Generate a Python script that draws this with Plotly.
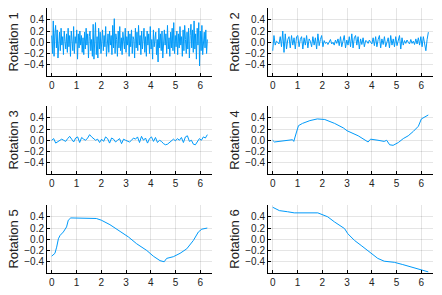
import numpy as np
import plotly.graph_objects as go

# ---------------- data ----------------
rot1 = [0.12,-0.2,0.38,-0.25,0.15,0.3,-0.1,0.22,-0.28,0.05,0.18,-0.15,0.25,-0.05,0.1,-0.22,0.2,0.02,-0.12,0.15,
        -0.18,0.25,-0.08,0.12,-0.25,0.2,0.05,-0.15,0.28,-0.2,0.1,-0.02,0.22,-0.3,0.15,-0.1,0.2,-0.05,0.12,-0.18,
        0.08,-0.22,0.18,-0.12,0.25,-0.05,0.15,-0.28,0.1,0.2,-0.15,0.05,-0.25,0.32,-0.3,0.18,0.35,-0.22,0.1,-0.28,
        0.25,-0.12,0.18,-0.2,0.05,0.22,-0.15,0.12,-0.08,0.28,-0.25,0.1,0.15,-0.18,0.2,-0.05,0.12,-0.22,0.3,-0.1,
        0.42,-0.2,0.15,0.05,-0.25,0.2,-0.1,0.28,-0.15,0.08,-0.22,0.18,0.02,-0.12,0.25,-0.18,0.1,-0.05,0.2,-0.25,
        0.15,-0.08,0.22,-0.2,0.1,0.05,-0.28,0.25,-0.1,0.18,-0.15,0.3,-0.05,0.12,-0.22,0.2,-0.12,0.08,0.25,-0.18,
        0.1,-0.25,0.2,-0.05,0.15,-0.2,0.28,-0.12,0.05,-0.3,0.22,-0.08,0.12,0.18,-0.22,0.05,-0.35,0.25,-0.1,0.15,
        -0.15,0.2,-0.28,0.1,0.22,-0.05,0.15,-0.2,0.3,-0.12,0.08,-0.25,0.18,-0.1,0.25,-0.15,0.35,-0.2,0.12,-0.08,
        0.2,-0.22,0.15,-0.1,0.28,-0.05,0.1,-0.25,0.22,-0.15,0.3,0.05,-0.2,0.18,-0.12,0.25,-0.28,0.12,0.32,-0.1,
        0.22,-0.18,0.38,-0.12,0.15,-0.3,0.25,-0.05,0.35,-0.42,0.2,-0.15,0.3,-0.22,0.1,0.18,-0.1,0.22,-0.2,0.05]

rot2 = [-0.15,0.12,-0.05,0.02,0.0,-0.03,0.1,-0.08,0.2,-0.18,0.15,-0.12,0.05,0.1,-0.1,0.12,-0.05,0.08,-0.12,0.1,
        0.12,-0.08,0.05,0.1,-0.12,0.08,-0.05,0.12,-0.1,0.06,0.02,-0.08,0.1,-0.05,0.08,-0.12,0.15,-0.06,0.05,0.12,
        -0.08,0.03,-0.02,0.0,-0.04,0.02,0.05,-0.03,0.0,-0.05,0.04,-0.02,0.06,-0.06,0.1,-0.08,0.05,0.12,-0.1,0.04,
        -0.05,0.1,-0.08,0.15,-0.1,0.08,0.12,-0.05,0.1,-0.12,0.06,-0.04,0.08,-0.08,0.03,0.02,-0.02,0.04,0.0,-0.03,
        0.08,-0.06,0.1,-0.08,0.05,0.12,-0.1,0.06,-0.04,0.1,-0.08,0.02,0.08,-0.1,0.12,-0.05,0.06,-0.08,0.1,-0.06,
        0.05,0.12,-0.12,0.08,-0.05,0.03,-0.02,0.04,0.0,-0.03,0.05,-0.02,0.02,-0.04,0.06,-0.03,0.08,-0.05,0.1,-0.08,
        0.1,-0.06,-0.15,0.05,0.18]

rot3 = [0.0,0.03,-0.05,-0.03,-0.01,0.02,0.0,-0.02,0.03,0.07,0.02,-0.03,0.04,0.06,-0.04,0.05,0.02,0.0,0.04,0.1,
        0.06,0.03,0.0,0.02,-0.04,0.02,-0.02,0.06,0.03,-0.05,0.04,0.02,-0.03,0.0,0.03,-0.06,0.02,0.0,-0.02,-0.03,
        0.0,0.04,0.02,0.06,-0.04,0.07,0.0,0.04,-0.05,0.03,0.06,-0.02,0.05,-0.04,0.0,-0.02,-0.06,-0.08,-0.07,-0.04,
        -0.01,0.02,-0.01,0.03,0.0,0.05,-0.04,0.06,0.08,-0.02,0.0,-0.07,-0.08,-0.03,0.03,0.0,0.06,0.04,0.1]

rot4_x = [0.0,0.07,0.8,0.85,0.95,1.04,1.2,1.5,1.8,2.1,2.5,2.85,3.0,3.45,3.85,3.95,4.25,4.5,4.6,4.72,4.86,5.07,5.27,5.47,5.68,5.88,6.0,6.28]
rot4_y = [0.0,-0.03,0.01,-0.02,0.13,0.26,0.3,0.35,0.38,0.37,0.3,0.22,0.17,0.08,-0.03,0.02,0.0,-0.02,0.0,-0.08,-0.09,-0.04,0.03,0.08,0.16,0.25,0.38,0.45]

rot5_x = [0.0,0.13,0.2,0.27,0.34,0.47,0.6,0.67,0.77,1.2,1.8,2.0,2.35,2.76,3.1,3.43,3.84,4.1,4.37,4.54,4.64,4.91,5.18,5.45,5.72,5.92,6.06,6.28]
rot5_y = [-0.3,-0.25,-0.14,0.01,0.07,0.13,0.22,0.34,0.38,0.38,0.37,0.34,0.26,0.14,0.04,-0.08,-0.2,-0.3,-0.38,-0.4,-0.34,-0.31,-0.25,-0.17,-0.02,0.13,0.18,0.2]

rot6_x = [0.0,0.27,0.6,0.87,1.82,2.02,2.22,2.49,2.76,2.9,3.03,3.3,3.57,3.9,4.24,4.5,4.91,5.25,5.59,5.92,6.28]
rot6_y = [0.57,0.51,0.49,0.47,0.47,0.44,0.4,0.31,0.22,0.19,0.1,-0.02,-0.11,-0.22,-0.34,-0.39,-0.41,-0.45,-0.49,-0.53,-0.58]

titles = ["Rotation 1","Rotation 2","Rotation 3","Rotation 4","Rotation 5","Rotation 6"]
xticks = [0,1,2,3,4,5,6]
yticks = [-0.4,-0.2,0.0,0.2,0.4]
ytick_text = ["\u22120.4","\u22120.2","0.0","0.2","0.4"]

series = [
    (np.linspace(0, 2*np.pi, len(rot1)), rot1),
    (np.linspace(0, 2*np.pi, len(rot2)), rot2),
    (np.linspace(0, 2*np.pi, len(rot3)), rot3),
    (rot4_x, rot4_y),
    (rot5_x, rot5_y),
    (rot6_x, rot6_y),
]

# ---------------- layout ----------------
W, H = 442, 295
col_px = [(47, 212), (268, 433)]
row_px = [(8, 76), (106, 174), (205, 273)]

fig = go.Figure()
FONT = "Liberation Sans"
for i, (xs, ys) in enumerate(series):
    r, c = divmod(i, 2)
    n = i + 1
    xa = "x" if n == 1 else f"x{n}"
    ya = "y" if n == 1 else f"y{n}"
    fig.add_trace(go.Scatter(x=list(xs), y=ys, mode="lines",
                             line=dict(color="#009AFA", width=1),
                             xaxis=xa, yaxis=ya, showlegend=False, hoverinfo="skip"))
    x0, x1 = col_px[c]
    y0, y1 = row_px[r]
    common = dict(showgrid=True, gridcolor="rgba(0,0,0,0.1)", gridwidth=0.5,
                  showline=True, linecolor="black", linewidth=1, zeroline=False,
                  ticks="inside", ticklen=3, tickwidth=1, tickcolor="black",
                  automargin=False,
                  tickfont=dict(family=FONT, size=10, color="#222"))
    fig.layout[f"xaxis{'' if n == 1 else n}"] = dict(
        domain=[x0 / W, x1 / W], anchor=ya, range=[-0.19, 6.47],
        tickvals=xticks, **common)
    fig.layout[f"yaxis{'' if n == 1 else n}"] = dict(
        domain=[1 - y1 / H, 1 - y0 / H], anchor=xa, range=[-0.6, 0.61],
        tickvals=yticks, ticktext=ytick_text,
        title=dict(text=titles[i], font=dict(family=FONT, size=13, color="#222"), standoff=2),
        **common)

fig.update_layout(width=W, height=H, margin=dict(l=0, r=0, t=0, b=0),
                  paper_bgcolor="white", plot_bgcolor="white")
fig.write_html("out.html", config={"displayModeBar": False},
               post_script="document.body.style.margin='0';document.body.style.padding='0';")
